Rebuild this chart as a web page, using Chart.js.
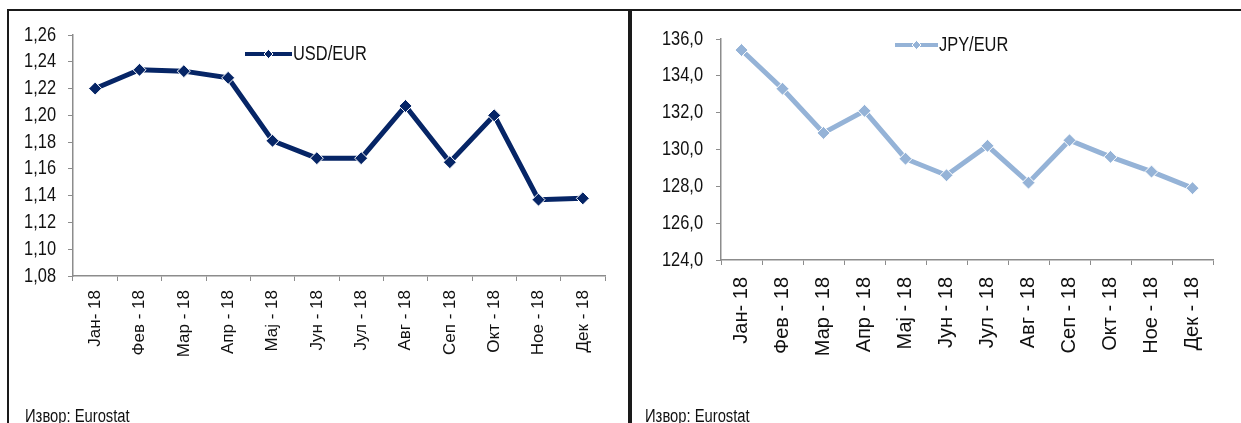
<!DOCTYPE html>
<html>
<head>
<meta charset="utf-8">
<script src="https://cdn.jsdelivr.net/npm/chart.js@4.4.1/dist/chart.umd.min.js"></script>
<style>
  body { margin: 0; background: #fff; width: 1241px; height: 423px; overflow: hidden; position: relative; }
  .panel { position: absolute; top: 9px; height: 430px; border: 2px solid #1a1a1a; box-sizing: border-box; }
  #panelLeft { left: 7px; width: 623px; }
  #panelRight { left: 630px; width: 640px; }
  canvas { position: absolute; top: 0; }
  .source { position: absolute; top: 407px; font: 18px/18px 'Liberation Sans', Arial, sans-serif; color: #111;
            transform: scaleX(0.82); transform-origin: 0 0; white-space: nowrap; }
</style>
</head>
<body>
<div class="panel" id="panelLeft"></div>
<div class="panel" id="panelRight"></div>
<canvas id="usdChart" width="630" height="423" style="left:0"></canvas>
<canvas id="jpyChart" width="610" height="423" style="left:631px"></canvas>
<div class="source" style="left:25px">Извор: Eurostat</div>
<div class="source" style="left:645px">Извор: Eurostat</div>
<script>
const months = ['Јан- 18', 'Фев - 18', 'Мар - 18', 'Апр - 18', 'Мај - 18', 'Јун - 18',
                'Јул - 18', 'Авг - 18', 'Сеп - 18', 'Окт - 18', 'Ное - 18', 'Дек - 18'];
const usdEur = [1.220, 1.234, 1.233, 1.228, 1.181, 1.168, 1.168, 1.207, 1.165, 1.200, 1.137, 1.138];
const jpyEur = [135.4, 133.3, 130.9, 132.1, 129.5, 128.6, 130.2, 128.2, 130.5, 129.6, 128.8, 127.9];
const usdTicks = [1.08, 1.10, 1.12, 1.14, 1.16, 1.18, 1.20, 1.22, 1.24, 1.26];
const jpyTicks = [124, 126, 128, 130, 132, 134, 136];

const regular = "'Liberation Sans', Arial, sans-serif";
const SQUEEZE = 0.82; // narrow look for the axis numbers and legend

function narrowText(ctx, text, x, y, align) {
    ctx.save();
    ctx.translate(x, y);
    ctx.scale(SQUEEZE, 1);
    ctx.textAlign = align;
    ctx.fillText(text, 0, 0);
    ctx.restore();
}

// y tick numbers and legend entry, drawn condensed
const narrowLabels = {
    id: 'narrowLabels',
    afterDraw(chart, args, opts) {
        const ctx = chart.ctx;
        const y = chart.scales.y;
        ctx.save();
        ctx.fillStyle = '#111';
        ctx.font = '20px ' + regular;
        ctx.textBaseline = 'middle';
        y.ticks.forEach(t => {
            const label = t.value.toFixed(opts.decimals).replace('.', ',');
            narrowText(ctx, label, y.right - 5 - opts.yPad, y.getPixelForValue(t.value), 'right');
        });

        const ds = chart.data.datasets[0];
        const lg = opts.legend;
        ctx.strokeStyle = ds.borderColor;
        ctx.lineWidth = 4;
        ctx.beginPath();
        ctx.moveTo(lg.x, lg.y);
        ctx.lineTo(lg.x + lg.w, lg.y);
        ctx.stroke();
        const r = 4.5, cx = lg.x + lg.w / 2, cy = lg.y;
        ctx.fillStyle = ds.borderColor;
        ctx.strokeStyle = '#fff';
        ctx.lineWidth = 1;
        ctx.beginPath();
        ctx.moveTo(cx, cy - r); ctx.lineTo(cx + r, cy); ctx.lineTo(cx, cy + r); ctx.lineTo(cx - r, cy); ctx.closePath();
        ctx.fill(); ctx.stroke();
        ctx.fillStyle = '#111';
        narrowText(ctx, ds.label, lg.x + lg.w + 1, lg.y, 'left');
        ctx.restore();
    }
};

function makeChart(id, label, values, color, tickValues, decimals, geo) {
    const ctx = document.getElementById(id).getContext('2d');
    return new Chart(ctx, {
        type: 'line',
        data: {
            labels: months,
            datasets: [{
                label: label,
                data: values,
                borderColor: color,
                backgroundColor: color,
                borderWidth: 5,
                pointStyle: 'rectRot',
                pointRadius: 6.5,
                pointBorderColor: '#fff',
                pointBorderWidth: 1,
                pointBackgroundColor: color,
                tension: 0
            }]
        },
        options: {
            responsive: false,
            animation: false,
            devicePixelRatio: 1,
            layout: { padding: { left: 0, top: geo.top, right: geo.right, bottom: geo.bottom } },
            plugins: {
                legend: { display: false },
                tooltip: { enabled: false },
                narrowLabels: { decimals: decimals, yPad: geo.yPad, legend: geo.legend }
            },
            scales: {
                x: {
                    offset: true,
                    grid: { offset: true, drawOnChartArea: false, drawTicks: true, tickLength: 5, color: '#8c8c8c' },
                    border: { display: true, color: '#8c8c8c', width: 1.5 },
                    ticks: {
                        autoSkip: false, minRotation: 90, maxRotation: 90, padding: geo.xPad,
                        color: '#111', font: { family: regular, size: geo.xFont }
                    },
                    afterFit: s => { s.height = 120; }
                },
                y: {
                    min: tickValues[0],
                    max: tickValues[tickValues.length - 1],
                    grid: { drawOnChartArea: false, drawTicks: true, tickLength: 5, color: '#8c8c8c' },
                    border: { display: true, color: '#8c8c8c', width: 1.5 },
                    ticks: { display: false, autoSkip: false },
                    afterBuildTicks: s => { s.ticks = tickValues.map(v => ({ value: v })); },
                    afterFit: s => { s.width = geo.axisX; }
                }
            }
        },
        plugins: [narrowLabels]
    });
}

makeChart('usdChart', 'USD/EUR', usdEur, '#062566', usdTicks, 2, {
    top: 35, right: 25, bottom: 27, axisX: 73, xPad: 9, yPad: 12, xFont: 17,
    legend: { x: 245, y: 54, w: 47 }
});
makeChart('jpyChart', 'JPY/EUR', jpyEur, '#95b3d7', jpyTicks, 1, {
    top: 39, right: 28, bottom: 43, axisX: 90, xPad: 12, yPad: 13, xFont: 20,
    legend: { x: 264, y: 45, w: 43 }
});
</script>
</body>
</html>
